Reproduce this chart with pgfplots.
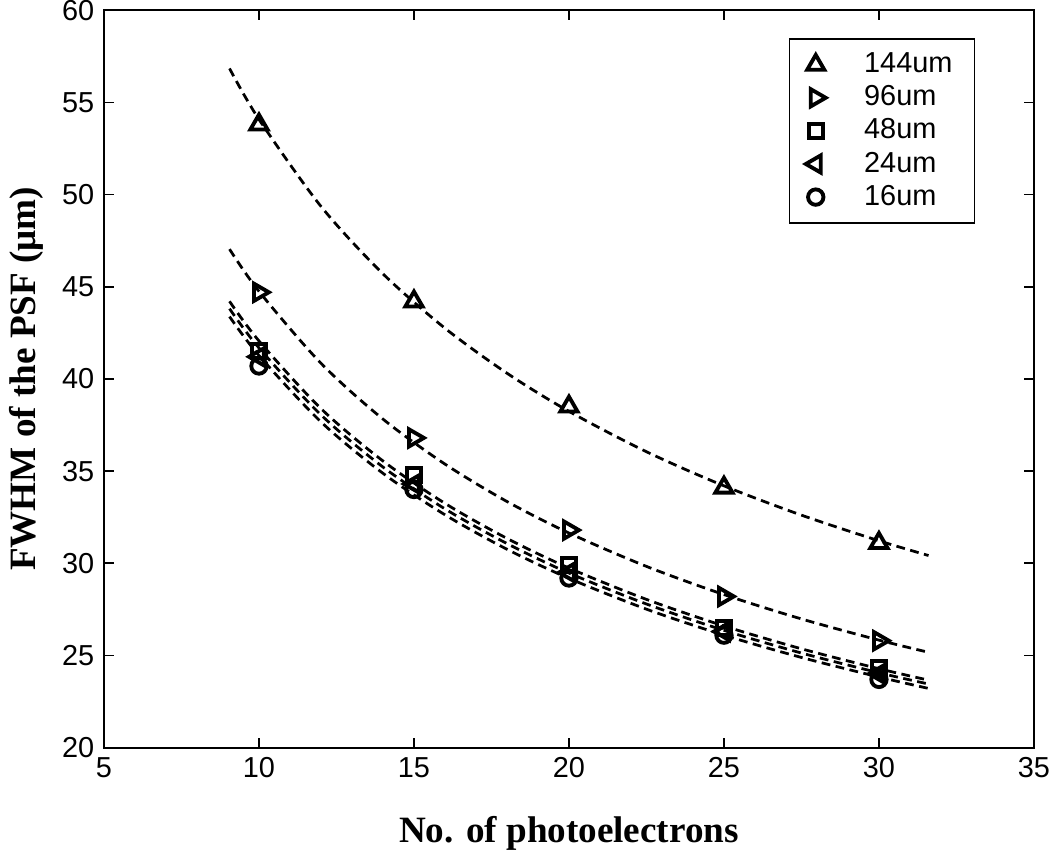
\documentclass[border=0pt]{standalone}
\usepackage{pgfplots}
\pgfplotsset{compat=1.18}
\usepackage{fontspec}
\setmainfont{Liberation Sans}
\newfontfamily\tnr{Liberation Serif}
\begin{document}
\begin{tikzpicture}
\begin{axis}[
  scale only axis,
  width=338pt, height=268pt,
  xmin=5, xmax=35, ymin=20, ymax=60,
  xtick={5,10,...,35}, ytick={20,25,...,60},
  tick align=inside,
  major tick length=3.5pt,
  axis line style={line width=0.7pt},
  every tick/.style={line width=0.6pt, black},
  /pgf/number format/assume math mode=true,
  tick label style={font=\fontsize{10.5}{12}\selectfont},
  xticklabel style={inner xsep=0pt},
  yticklabel style={inner ysep=0pt},
  xlabel={\tnr\bfseries No. of photoelectrons},
  ylabel={\tnr\bfseries FWHM of the PSF (μm)},
  xlabel style={font=\fontsize{13.5}{15}\selectfont, yshift=-7pt},
  ylabel style={font=\fontsize{13.5}{15}\selectfont, yshift=0pt},
  legend style={at={(0.937,0.962)}, anchor=north east, draw=black, line width=0.6pt,
    font=\fontsize{10.5}{12}\selectfont, row sep=-0.8pt, inner xsep=6pt, inner ysep=3pt},
  legend cell align=left,
  legend image code/.code={\draw[mark repeat=2,mark phase=2] plot coordinates {(0cm,0cm) (0.4cm,0cm) (0.8cm,0cm)};},
]
% fitted dashed curves
\addplot[black, dashed, line width=1pt, dash pattern=on 3.2pt off 2pt, smooth, forget plot] coordinates {
(9.05,56.84)(10,54.08)(12,49.36)(14,45.70)(16,42.75)(18,40.31)(20,38.24)(22.5,36.05)(25,34.20)(27.5,32.61)(30,31.22)(31.6,30.42)};
\addplot[black, dashed, line width=1pt, dash pattern=on 3.2pt off 2pt, smooth, forget plot] coordinates {
(9.05,47.04)(10,44.75)(12,40.85)(14,37.82)(16,35.38)(18,33.35)(20,31.64)(22.5,29.83)(25,28.30)(27.5,26.98)(30,25.83)(31.6,25.17)};
\addplot[black, dashed, line width=1pt, dash pattern=on 3.2pt off 2pt, smooth, forget plot] coordinates {
(9.05,44.21)(10,42.06)(12,38.39)(14,35.55)(16,33.25)(18,31.35)(20,29.74)(22.5,28.04)(25,26.60)(27.5,25.36)(30,24.28)(31.6,23.66)};
\addplot[black, dashed, line width=1pt, dash pattern=on 3.2pt off 2pt, smooth, forget plot] coordinates {
(9.05,43.81)(10,41.68)(12,38.05)(14,35.22)(16,32.95)(18,31.07)(20,29.47)(22.5,27.79)(25,26.36)(27.5,25.13)(30,24.06)(31.6,23.45)};
\addplot[black, dashed, line width=1pt, dash pattern=on 3.2pt off 2pt, smooth, forget plot] coordinates {
(9.05,43.38)(10,41.27)(12,37.67)(14,34.88)(16,32.63)(18,30.76)(20,29.18)(22.5,27.51)(25,26.10)(27.5,24.89)(30,23.83)(31.6,23.21)};
% data markers
\addplot[only marks, mark=triangle, mark size=3.6pt, mark options={solid, line width=1.4pt, black, fill=white}] coordinates {
(10,53.8)(15,44.2)(20,38.5)(25,34.1)(30,31.1)};
\addlegendentry{\hspace{12pt}144um}
\addplot[only marks, mark=triangle, mark size=3.6pt, mark options={solid, line width=1.4pt, black, fill=white, rotate=-90}] coordinates {
(10,44.7)(15,36.8)(20,31.8)(25,28.2)(30,25.8)};
\addlegendentry{\hspace{12pt}96um}
\addplot[only marks, mark=square, mark size=2.6pt, mark options={solid, line width=1.4pt, black, fill=white}] coordinates {
(10,41.5)(15,34.8)(20,29.9)(25,26.5)(30,24.3)};
\addlegendentry{\hspace{12pt}48um}
\addplot[only marks, mark=triangle, mark size=3.6pt, mark options={solid, line width=1.4pt, black, fill=white, rotate=90}] coordinates {
(10,41.2)(15,34.3)(20,29.5)(25,26.3)(30,24.0)};
\addlegendentry{\hspace{12pt}24um}
\addplot[only marks, mark=o, mark size=2.8pt, mark options={solid, line width=1.4pt, black, fill=white}] coordinates {
(10,40.7)(15,34.0)(20,29.2)(25,26.1)(30,23.7)};
\addlegendentry{\hspace{12pt}16um}
\end{axis}
\end{tikzpicture}
\end{document}
